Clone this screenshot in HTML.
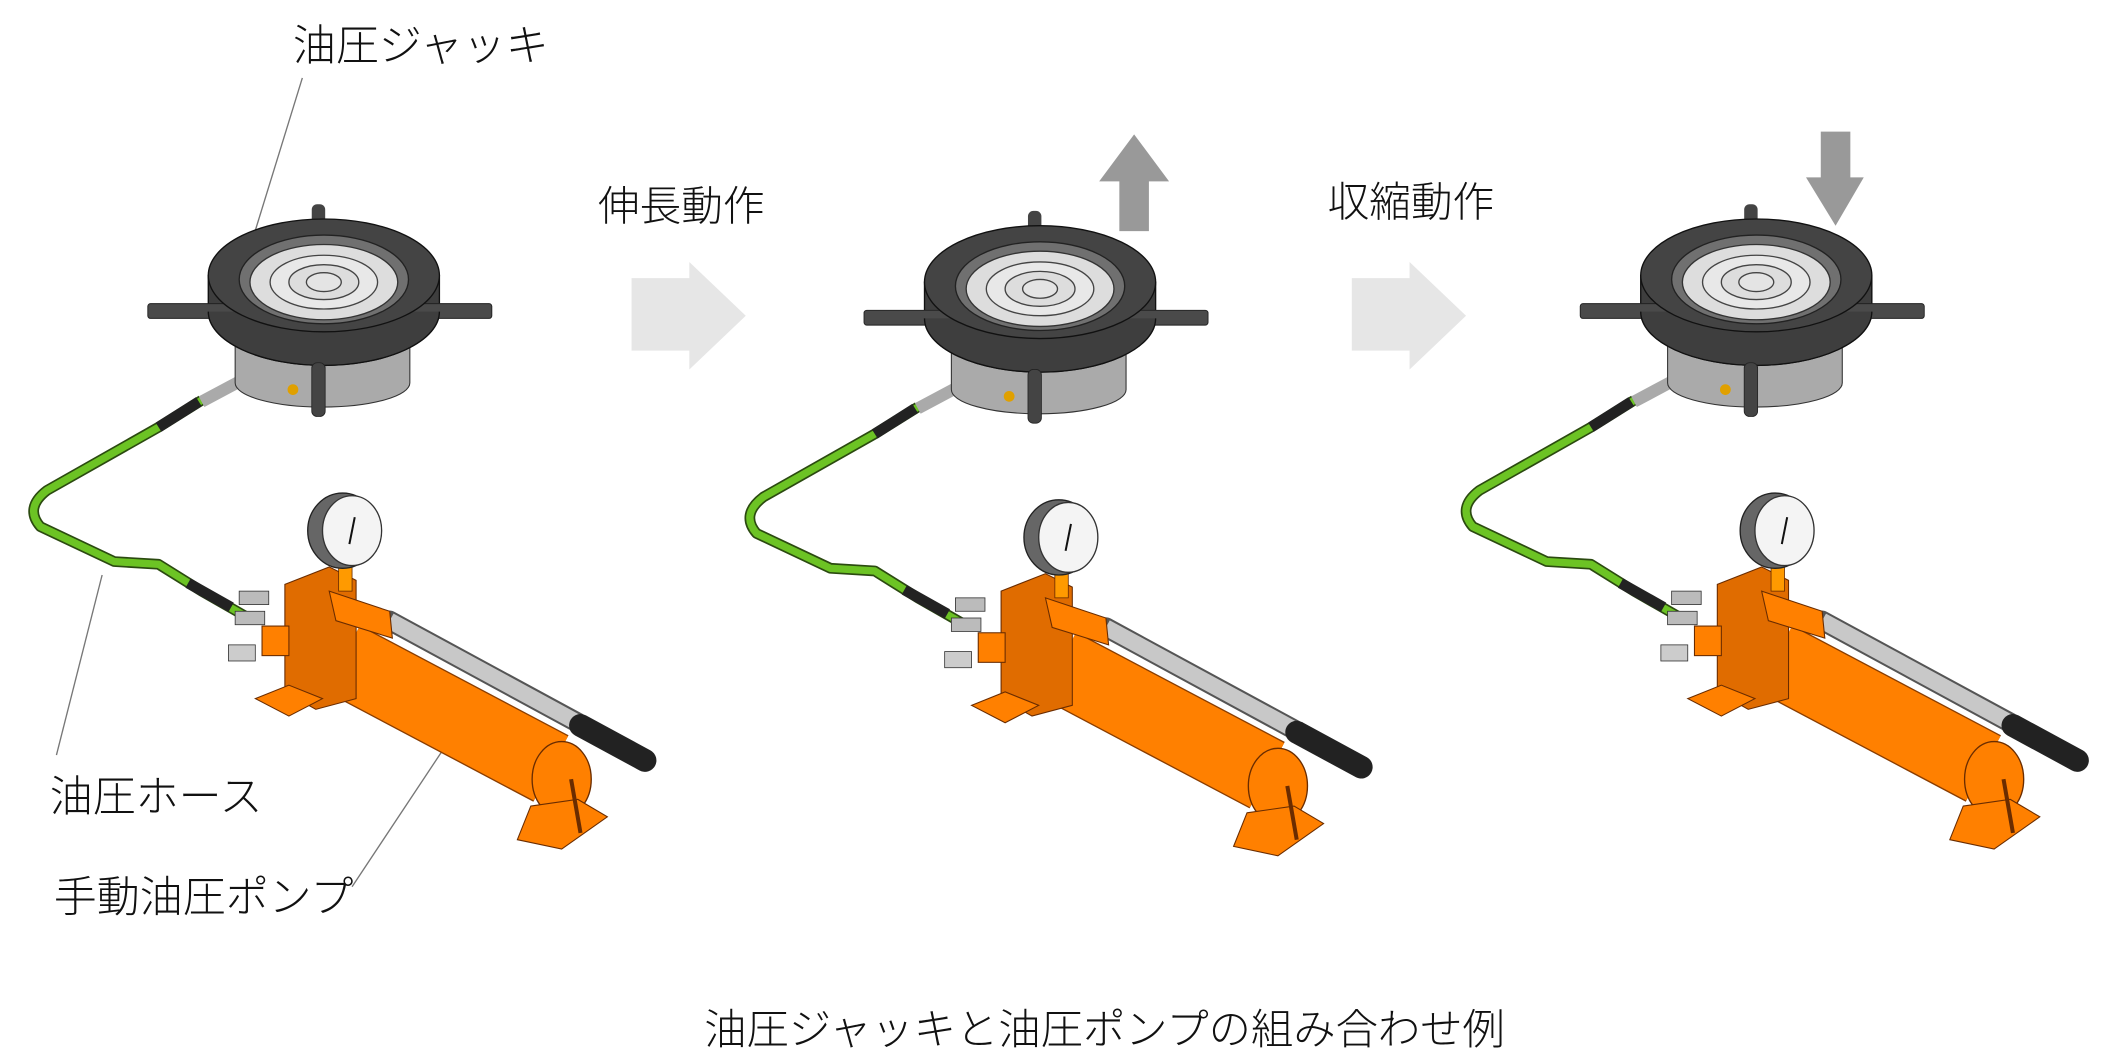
<!DOCTYPE html>
<html><head><meta charset="utf-8"><style>
html,body{margin:0;padding:0;background:#fff;}
svg{display:block;}
text{font-family:"Liberation Sans","Noto Sans CJK JP",sans-serif;fill:#111;font-weight:300;}
</style></head><body>
<svg width="2107" height="1060" viewBox="0 0 1568 789" preserveAspectRatio="none" xmlns="http://www.w3.org/2000/svg">
<defs>
<g id="asm">
  <path d="M150,298 L118,318 L35,365 Q18,378 30,392 L85,418 L118,420 L150,440 L185,460" fill="none" stroke="#2b4a10" stroke-width="8" stroke-linejoin="round"/>
  <path d="M150,298 L118,318 L35,365 Q18,378 30,392 L85,418 L118,420 L150,440 L185,460" fill="none" stroke="#6cc324" stroke-width="5.5" stroke-linejoin="round"/>
  <line x1="148" y1="299" x2="118" y2="318" stroke="#222" stroke-width="8"/>
  <line x1="140" y1="434" x2="172" y2="452" stroke="#222" stroke-width="8"/>
  <line x1="150" y1="299" x2="180" y2="283" stroke="#aaa" stroke-width="9"/>
  <rect x="232" y="152" width="10" height="30" rx="4" fill="#444"/>
  <path d="M175,248 L175,285 A65,18 0 0 0 305,285 L305,248 Z" fill="#aaa" stroke="#333" stroke-width="0.8"/>
  <path d="M155,205 L155,232 A86,40 0 0 0 327,232 L327,205 Z" fill="#3e3e3e" stroke="#111" stroke-width="1"/>
  <rect x="110" y="226" width="256" height="11" rx="2" fill="#4a4a4a" stroke="#222" stroke-width="0.7"/>
  <path d="M155,232 A86,40 0 0 0 327,232" fill="#3e3e3e" stroke="#111"/>
  <ellipse cx="241" cy="205" rx="86" ry="42" fill="#444" stroke="#111"/>
  <ellipse cx="241" cy="208" rx="63" ry="33" fill="#707070" stroke="#222"/>
  <ellipse cx="241" cy="210" rx="55" ry="28" fill="#ddd" stroke="#333"/>
  <ellipse cx="241" cy="210" rx="40" ry="20" fill="#e8e8e8" stroke="#444"/>
  <ellipse cx="241" cy="210" rx="26" ry="13" fill="#ddd" stroke="#444"/>
  <ellipse cx="241" cy="210" rx="13" ry="7" fill="#e4e4e4" stroke="#444"/>
  <rect x="232" y="270" width="10" height="40" rx="4" fill="#444" stroke="#222" stroke-width="0.6"/>
  <circle cx="218" cy="290" r="4" fill="#e0a000"/>
  <line x1="290" y1="462" x2="430" y2="538" stroke="#555" stroke-width="15" stroke-linecap="round"/>
  <line x1="290" y1="462" x2="430" y2="538" stroke="#c8c8c8" stroke-width="12"/>
  <line x1="432" y1="540" x2="480" y2="566" stroke="#222" stroke-width="17" stroke-linecap="round"/>
  <line x1="255" y1="490" x2="410" y2="572" stroke="#8a3d00" stroke-width="56" stroke-linecap="butt"/>
  <line x1="255" y1="490" x2="410" y2="572" stroke="#ff8000" stroke-width="54" stroke-linecap="butt"/>
  <ellipse cx="418" cy="580" rx="22" ry="28" fill="#ff8000" stroke="#6a2c00"/>
  <path d="M395,600 L430,595 L452,608 L418,632 L385,625 Z" fill="#ff8000" stroke="#6a2c00" stroke-width="0.8"/>
  <path d="M425,580 L432,620" stroke="#6a2c00" stroke-width="3"/>
  <path d="M212,435 L245,422 L265,432 L265,520 L235,528 L212,515 Z" fill="#e06c00" stroke="#6a2c00" stroke-width="0.8"/>
  <path d="M245,440 L290,455 L292,475 L250,462 Z" fill="#ff8000" stroke="#6a2c00" stroke-width="0.8"/>
  <path d="M190,520 L215,510 L240,520 L215,533 Z" fill="#ff8000" stroke="#6a2c00" stroke-width="0.8"/>
  <rect x="195" y="466" width="20" height="22" fill="#ff8000" stroke="#6a2c00" stroke-width="0.8"/>
  <rect x="178" y="440" width="22" height="10" fill="#bbb" stroke="#333" stroke-width="0.6"/>
  <rect x="175" y="455" width="22" height="10" fill="#bbb" stroke="#333" stroke-width="0.6"/>
  <rect x="170" y="480" width="20" height="12" fill="#ccc" stroke="#333" stroke-width="0.6"/>
  <rect x="252" y="420" width="10" height="20" fill="#ff9a00" stroke="#6a2c00" stroke-width="0.6"/>
  <ellipse cx="255" cy="395" rx="26" ry="28" fill="#666" stroke="#222"/>
  <ellipse cx="262" cy="395" rx="22" ry="26" fill="#f4f4f4" stroke="#333"/>
  <line x1="260" y1="405" x2="264" y2="385" stroke="#111" stroke-width="1.5"/>
</g>
</defs>
<text x="218" y="45" font-size="32">油圧ジャッキ</text>
<line x1="225" y1="58" x2="188" y2="178" stroke="#777" stroke-width="1"/>
<line x1="76" y1="428" x2="42" y2="562" stroke="#777" stroke-width="1"/>
<line x1="345" y1="535" x2="262" y2="660" stroke="#777" stroke-width="1"/>
<use href="#asm"/>
<use href="#asm" transform="translate(533,5)"/>
<use href="#asm" transform="translate(1066,0)"/>
<text x="37" y="604" font-size="32">油圧ホース</text>
<text x="40" y="679" font-size="32">手動油圧ポンプ</text>
<text x="445" y="164" font-size="31">伸長動作</text>
<text x="988" y="161" font-size="31">収縮動作</text>
<polygon points="470,207 513,207 513,195 555,235 513,275 513,261 470,261" fill="#e6e6e6"/>
<polygon points="1006,207 1049,207 1049,195 1091,235 1049,275 1049,261 1006,261" fill="#e6e6e6"/>
<polygon points="833,172 855,172 855,135 870,135 844,100 818,135 833,135" fill="#999"/>
<polygon points="1355,98 1377,98 1377,132 1387,132 1366,168 1344,132 1355,132" fill="#999"/>
<text x="822" y="777" font-size="31.5" text-anchor="middle">油圧ジャッキと油圧ポンプの組み合わせ例</text>
</svg>
</body></html>
